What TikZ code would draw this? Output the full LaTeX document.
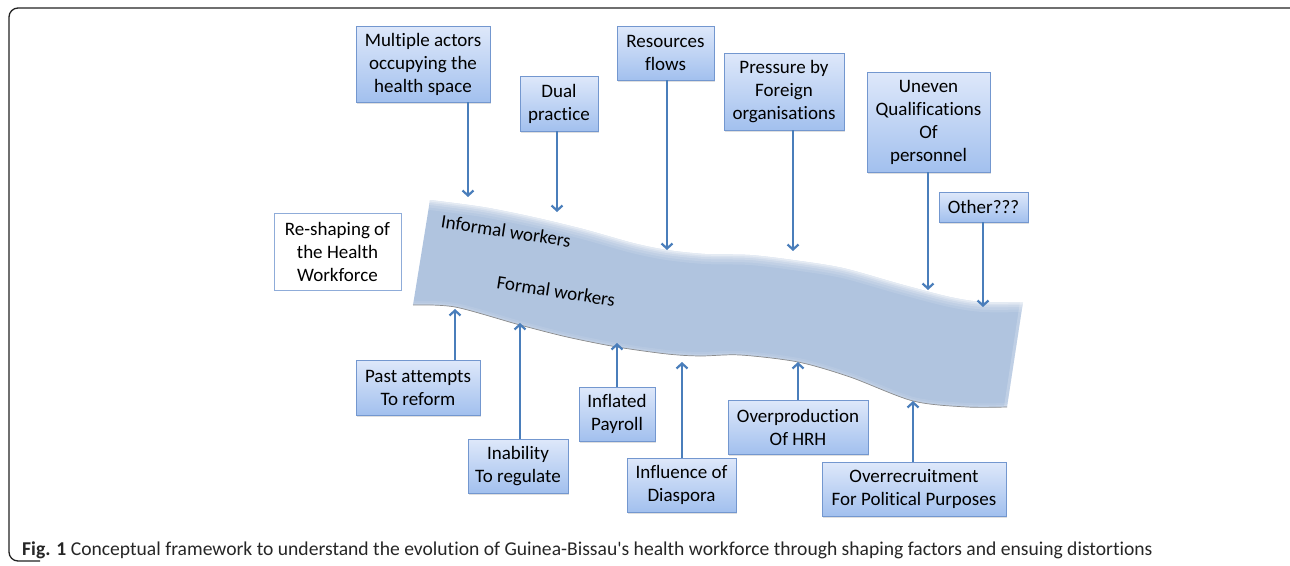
\documentclass[tikz,border=0pt]{standalone}
\usepackage{fontspec}
\setmainfont{Carlito}[Ligatures={NoCommon}]
\usetikzlibrary{arrows.meta,shadows}
\definecolor{arrowc}{HTML}{4A7EBB}
\definecolor{boxtop}{HTML}{DEE8FA}
\definecolor{boxbot}{HTML}{A2C0EE}
\definecolor{boxline}{HTML}{7397CF}
\definecolor{bandc}{HTML}{B0C4DF}
\definecolor{framec}{HTML}{222222}
\begin{document}
\begin{tikzpicture}[x=1pt,y=-1pt,
  factor/.style={draw=boxline, line width=0.8pt, top color=boxtop, bottom color=boxbot,
    align=center, inner sep=0pt, font=\fontsize{19}{23}\selectfont,
    drop shadow={opacity=0.25, shadow xshift=1pt, shadow yshift=-1.5pt}},
  plainbox/.style={draw=boxline!80, line width=0.8pt, fill=white, align=center, inner sep=0pt,
    font=\fontsize{19}{23}\selectfont},
  arr/.style={draw=arrowc, line width=2.2pt, -{Straight Barb[length=5pt,width=11pt,line width=2.2pt]}},
  bandtext/.style={font=\fontsize{19}{21}\selectfont, rotate=-8.8}]
\useasboundingbox (0,0) rectangle (1290,565);
% frame
\draw[framec, line width=1.3pt, rounded corners=9pt] (1291,8) -- (9,8) -- (9,561) -- (40,561);

% band
\def\toppts{(430,200) (483,207) (533,217) (583,229) (633,243) (667,250) (705,254) (750,255) (793,260) (843,268) (900,284) (950,297) (983,302) (1023,302)}
\def\botpts{(1007,407) (967,407) (913,401) (850,377) (798,362) (740,355) (700,356) (667,354) (617,347) (567,337) (520,325) (455,307) (413,305)}
\fill[bandc] plot[smooth, tension=0.5] coordinates {\toppts} -- plot[smooth, tension=0.5] coordinates {\botpts} -- cycle;
\begin{scope}
  \clip plot[smooth, tension=0.5] coordinates {\toppts} -- plot[smooth, tension=0.5] coordinates {\botpts} -- cycle;
  \foreach \w/\o in {20/0.1,15/0.13,10/0.18,6/0.25,3/0.35}{
    \draw[white, opacity=\o, line width=\w pt] plot[smooth, tension=0.5] coordinates {\toppts};
  }
  \foreach \w/\o in {8/0.08,4/0.12}{
    \draw[white, opacity=\o, line width=\w pt] plot[smooth, tension=0.5] coordinates {\botpts};
  }
  \draw[white, opacity=0.2, line width=6pt] (1023,302) -- (1007,407);
\end{scope}
\draw[black!45, line width=0.7pt] plot[smooth, tension=0.5] coordinates {\botpts};

\node[bandtext] (inf) at (506,231) {Informal workers};
\node[bandtext] (form) at (556,291) {Formal workers};

% top factors
\node[factor, minimum width=134pt, minimum height=76pt] (multi) at (423,64) {Multiple actors\\occupying the\\health space};
\node[factor, minimum width=78pt, minimum height=55pt] (dual) at (559,103.5) {Dual\\practice};
\node[factor, minimum width=97pt, minimum height=54pt] (res) at (665.5,53) {Resources\\flows};
\node[factor, minimum width=120pt, minimum height=77pt] (press) at (784,91.5) {Pressure by\\Foreign\\organisations};
\node[factor, minimum width=123pt, minimum height=100pt] (uneven) at (928.5,122) {Uneven\\Qualifications\\Of\\personnel};
\node[factor, minimum width=89pt, minimum height=30pt] (other) at (983.5,207) {Other???};
\node[plainbox, minimum width=127pt, minimum height=77pt] (reshape) at (337.5,251.5) {Re-shaping of\\the Health\\Workforce};

% bottom factors
\node[factor, minimum width=124pt, minimum height=55pt] (past) at (418,387.5) {Past attempts\\To reform};
\node[factor, minimum width=100pt, minimum height=54pt] (inab) at (518,466) {Inability\\To regulate};
\node[factor, minimum width=76pt, minimum height=54pt] (infl) at (617,414) {Inflated\\Payroll};
\node[factor, minimum width=109pt, minimum height=54pt] (diasp) at (681.5,485) {Influence of\\Diaspora};
\node[factor, minimum width=140pt, minimum height=54pt] (overp) at (798,427) {Overproduction\\Of HRH};
\node[factor, minimum width=184pt, minimum height=54pt] (overr) at (914,489) {Overrecruitment\\For Political Purposes};

% arrow tips on the band
\coordinate (tmulti) at (468,197);
\coordinate (tdual) at (557,212);
\coordinate (tres) at (667,250);
\coordinate (tpress) at (793,251);
\coordinate (tuneven) at (928,290);
\coordinate (tother) at (983,307);
\coordinate (tpast) at (455,309);
\coordinate (tinab) at (520,323);
\coordinate (tinfl) at (617,343);
\coordinate (tdiasp) at (682,362);
\coordinate (toverp) at (798,362);
\coordinate (toverr) at (913,401);

\draw[arr] (multi.south -| tmulti) -- (tmulti);
\draw[arr] (dual.south -| tdual) -- (tdual);
\draw[arr] (res.south -| tres) -- (tres);
\draw[arr] (press.south -| tpress) -- (tpress);
\draw[arr] (uneven.south -| tuneven) -- (tuneven);
\draw[arr] (other.south -| tother) -- (tother);
\draw[arr] (past.north -| tpast) -- (tpast);
\draw[arr] (inab.north -| tinab) -- (tinab);
\draw[arr] (infl.north -| tinfl) -- (tinfl);
\draw[arr] (diasp.north -| tdiasp) -- (tdiasp);
\draw[arr] (overp.north -| toverp) -- (toverp);
\draw[arr] (overr.north -| toverr) -- (toverr);

% caption
\node[anchor=base west, inner sep=0pt, font=\fontsize{19.6}{21}\selectfont, text=black!85] (cap) at (22,555)
  {\textbf{Fig. 1} Conceptual framework to understand the evolution of Guinea-Bissau\textquotesingle s health workforce through shaping factors and ensuing distortions};
\end{tikzpicture}
\end{document}
